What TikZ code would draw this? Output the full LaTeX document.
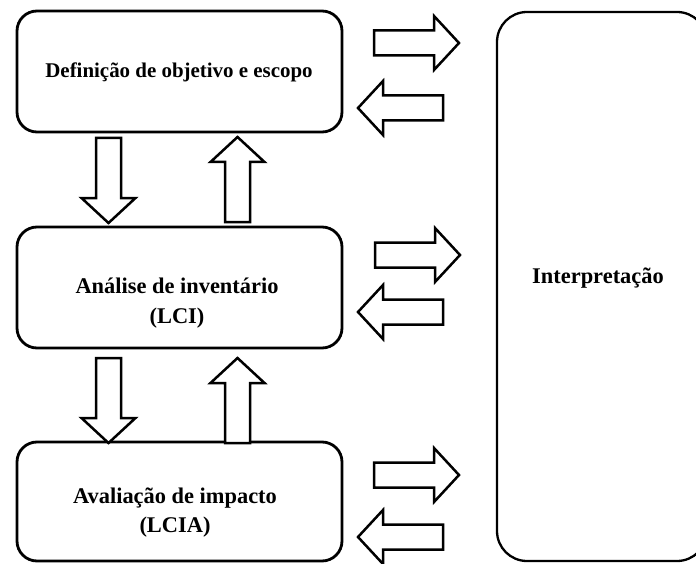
\documentclass[tikz,border=0pt]{standalone}
\usepackage{fontspec}
\setmainfont{Liberation Serif}
\begin{document}
\begin{tikzpicture}[x=1bp,y=-1bp,
  stagebox/.style={draw, line width=2.8bp, rounded corners=20bp, minimum width=325bp, inner sep=0pt},
  sidebox/.style={draw, line width=2.3bp, rounded corners=30bp, minimum width=210bp, minimum height=549bp, inner sep=0pt},
  arrowline/.style={draw, line width=2.5bp, line join=miter, fill=white},
  stagetext/.style={align=center, font=\bfseries\fontsize{22.5}{29.5}\selectfont, inner sep=0pt},
  blockarrow/.pic={
    \path[arrowline] (0,-12.5) -- (60,-12.5) -- (60,-27) -- (85,0) -- (60,27) -- (60,12.5) -- (0,12.5) -- cycle;
  }
]
\useasboundingbox (0,0) rectangle (696,564);
\begin{scope}
\clip (0,0) rectangle (696,564);

% life-cycle stages
\node[stagebox, minimum height=121bp] (goal) at (179.5,71.5) {};
\node[stagebox, minimum height=121bp] (lci)  at (179.5,287.5) {};
\node[stagebox, minimum height=119bp] (lcia) at (179.5,501.5) {};
\node[sidebox] (interp) at (602,286.5) {};

% labels
\node[stagetext, font=\bfseries\fontsize{21}{26}\selectfont] (goaltext) at (179,72) {Definição de objetivo e escopo};
\node[stagetext] (lcitext)  at (177,303) {Análise de inventário\\(LCI)};
\node[stagetext] (lciatext) at (175,512.5) {Avaliação de impacto\\(LCIA)};
\node[stagetext] (interptext) at (598,278) {Interpretação};

% arrows between the stages
\pic at ([xshift=-71bp]goal.south |- 0,138) [rotate=-90] {blockarrow};
\pic at ([xshift=58bp]goal.south |- 0,222) [rotate=90] {blockarrow};
\pic at ([xshift=-71bp]lci.south |- 0,358) [rotate=-90] {blockarrow};
\pic at ([xshift=58bp]lci.south |- 0,443) [rotate=90] {blockarrow};

% arrows to and from the interpretation
\pic at (374,43)  {blockarrow};
\pic at (443,108) [rotate=180] {blockarrow};
\pic at (375,255) {blockarrow};
\pic at (443,312) [rotate=180] {blockarrow};
\pic at (374,475) {blockarrow};
\pic at (443,537) [rotate=180] {blockarrow};
\end{scope}
\end{tikzpicture}
\end{document}
